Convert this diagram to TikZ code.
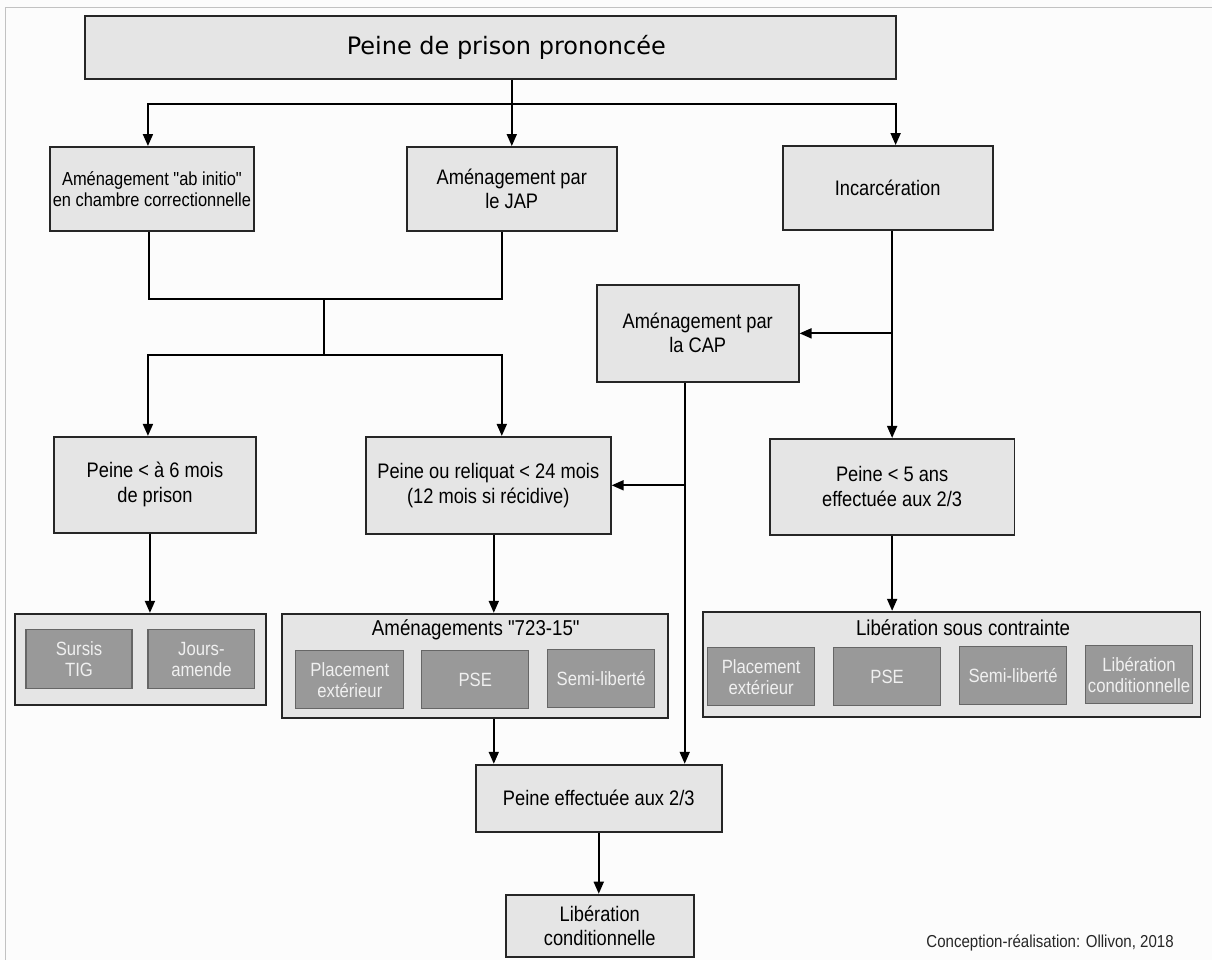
\documentclass[tikz,border=0pt]{standalone}
\usepackage{fontspec}
\setmainfont{Liberation Sans}[FakeStretch=0.87]
\newfontfamily\plainfont{Liberation Sans}[FakeStretch=0.87]
\newfontfamily\titlefont{DejaVu Sans}
\usetikzlibrary{arrows.meta}
\definecolor{boxgray}{HTML}{E5E5E5}
\definecolor{innergray}{HTML}{999999}
\definecolor{framegray}{HTML}{C2C2C2}
\definecolor{bggray}{HTML}{FCFCFC}
\newcommand\dq{{\plainfont\symbol{34}}}

\begin{document}
\begin{tikzpicture}[x=1pt,y=1pt,
  >={Triangle[length=12pt,width=10pt]},
  box/.style={draw=black!85, line width=1.8pt, fill=boxgray, align=center, inner sep=0pt, font=\fontsize{21}{24}\selectfont},
  grp/.style={draw=black!85, line width=1.8pt, fill=boxgray, inner sep=0pt},
  sub/.style={draw=black!60, line width=1.2pt, fill=innergray, text=white!94!black, align=center, inner sep=0pt, minimum width=107pt, minimum height=58pt, font=\fontsize{19.2}{21}\selectfont},
  grptitle/.style={font=\fontsize{21.5}{23}\selectfont},
  wire/.style={line width=1.8pt}]
\fill[bggray] (0,0) rectangle (1212,-960);
\draw[framegray, line width=1pt] (6,-960) -- (6,-8) -- (1212,-8);
\useasboundingbox (0,0) rectangle (1212,-960);

% boxes
\node[box, minimum width=811pt, minimum height=63pt, font=\titlefont\fontsize{24}{28}\selectfont] (peine) at (490.5,-47.5) {\hspace{32pt}Peine de prison prononcée};
\node[box, minimum width=204pt, minimum height=84pt, font=\fontsize{18.9}{21}\selectfont] (abinitio) at (152,-189) {Aménagement \dq ab initio\dq\\en chambre correctionnelle};
\node[box, minimum width=210pt, minimum height=84pt] (jap) at (512,-189) {Aménagement par\\le JAP};
\node[box, minimum width=210pt, minimum height=84pt] (incarc) at (888,-188) {Incarcération};
\node[box, minimum width=202pt, minimum height=97pt] (cap) at (698,-333.5) {Aménagement par\\la CAP};
\node[box, minimum width=202pt, minimum height=96pt, font=\fontsize{21}{25}\selectfont] (sixmois) at (155,-485) {Peine < à 6 mois\\de prison};
\node[box, minimum width=245pt, minimum height=97pt, font=\fontsize{21}{25}\selectfont] (reliquat) at (488.5,-485.5) {Peine ou reliquat < 24 mois\\(12 mois si récidive)};
\node[box, minimum width=245pt, minimum height=96pt, font=\fontsize{21}{25}\selectfont] (cinqans) at (892.5,-487) {Peine < 5 ans\\effectuée aux 2/3};

% groups
\node[grp, minimum width=251pt, minimum height=91pt] (grpsursis) at (140.5,-659.5) {};
\node[sub, minimum width=106pt, minimum height=59pt] (sursis) at (79,-659.5) {Sursis\\TIG};
\node[sub, minimum height=59pt] (jours) at (201.5,-659.5) {Jours-\\amende};

\node[grp, minimum width=386pt, minimum height=104pt] (grp723) at (475,-666) {};
\node[grptitle] (t723) at (476,-630) {Aménagements \dq 723-15\dq};
\node[sub, minimum width=108pt] (place1) at (350,-680) {Placement\\extérieur};
\node[sub] (pse1) at (475.5,-680) {PSE};
\node[sub] (semi1) at (601.5,-679) {Semi-liberté};

\node[grp, minimum width=498pt, minimum height=105pt] (grplsc) at (952,-664.5) {};
\node[grptitle] (tlsc) at (963.5,-628) {Libération sous contrainte};
\node[sub] (place2) at (761.5,-677) {Placement\\extérieur};
\node[sub] (pse2) at (887.5,-677) {PSE};
\node[sub] (semi2) at (1013.5,-675.5) {Semi-liberté};
\node[sub] (libcond2) at (1139.5,-675) {Libération\\conditionnelle};

\node[box, minimum width=246pt, minimum height=67pt] (deuxtiers) at (599,-798.5) {Peine effectuée aux 2/3};
\node[box, minimum width=188pt, minimum height=62pt] (libcond) at (600,-926) {Libération\\conditionnelle};
\node[font=\fontsize{17.3}{20}\selectfont, text=black!85] (credit) at (1050.5,-943) {Conception-réalisation: Ollivon, 2018};

% connectors
\coordinate (bus) at (510,-104);
\coordinate (join1) at (324,-299);
\coordinate (join2) at (324,-355);
\coordinate (capout) at ([xshift=-13pt]cap.south);
\draw[wire, ->] (jap.north |- peine.south) -- (jap.north);
\draw[wire, <->] ([xshift=-4pt]abinitio.north) |- (bus) -| ([xshift=8pt]incarc.north);
\draw[wire] ([xshift=-3pt]abinitio.south) |- (join1) -| ([xshift=-10pt]jap.south);
\draw[wire] (join1) -- (join2);
\draw[wire, <->] ([xshift=-7pt]sixmois.north) |- (join2) -| ([xshift=13.5pt]reliquat.north);
\draw[wire, ->] (cinqans.north |- incarc.south) -- (cinqans.north);
\draw[wire, ->] (cinqans.north |- cap.east) -- (cap.east);
\draw[wire, ->] (capout) -- (capout |- deuxtiers.north);
\draw[wire, ->] (capout |- reliquat.east) -- (reliquat.east);
\draw[wire, ->] ([xshift=-5pt]sixmois.south) -- ([xshift=-5pt]sixmois.south |- grpsursis.north);
\draw[wire, ->] ([xshift=5.5pt]reliquat.south) -- ([xshift=5.5pt]reliquat.south |- grp723.north);
\draw[wire, ->] ([xshift=5.5pt]reliquat.south |- grp723.south) -- ([xshift=5.5pt]reliquat.south |- deuxtiers.north);
\draw[wire, ->] (cinqans.south) -- (cinqans.south |- grplsc.north);
\draw[wire, ->] (deuxtiers.south) -- (deuxtiers.south |- libcond.north);
\end{tikzpicture}
\end{document}
